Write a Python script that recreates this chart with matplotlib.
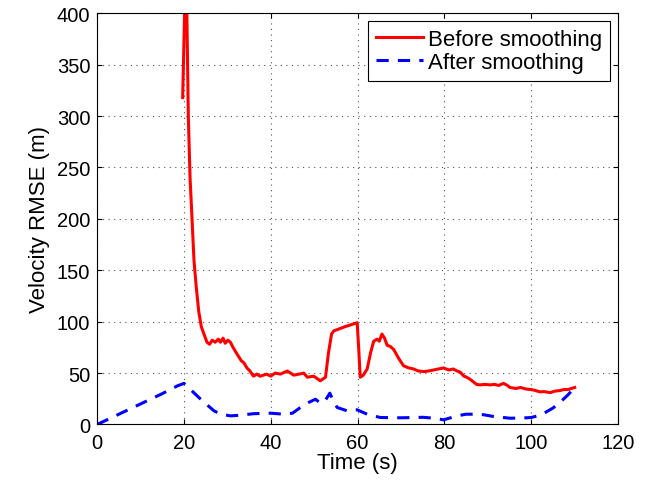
import numpy as np
import matplotlib.pyplot as plt

plt.rcParams['font.family'] = ['Liberation Sans', 'DejaVu Sans']

# Before smoothing (red)
t_before = [19.7, 20.2, 20.6, 21.0, 21.4, 21.8, 22.3, 22.8, 23.4, 24.0, 24.6, 25.3, 25.9,
            26.5, 27.2, 27.9, 28.4, 29.0, 29.5, 30.1, 30.7, 31.3, 32.0, 32.6, 33.2, 33.8,
            34.5, 35.2, 36.0, 36.8, 37.5, 38.3, 39.0, 40.0, 41.0, 42.2, 43.8, 45.3, 46.5,
            47.6, 48.4, 49.9, 51.4, 52.6, 53.3, 54.0, 54.5, 57.0, 59.9, 60.3, 60.6, 61.3,
            62.2, 63.0, 63.7, 64.5, 65.0, 65.6, 66.2, 66.8, 67.5, 68.3, 69.5, 70.6, 71.8,
            72.9, 74.0, 75.2, 76.3, 77.5, 78.6, 79.8, 81.0, 82.0, 82.9, 83.6, 84.5, 85.1,
            85.9, 87.4, 88.2, 89.3, 90.5, 91.5, 92.5, 93.6, 94.5, 95.1, 96.5, 97.5, 98.9,
            100.0, 101.0, 102.0, 103.0, 104.3, 105.5, 106.6, 107.5, 108.5, 109.2, 110.0]
v_before = [318, 410, 420, 300, 240, 205, 160, 135, 110, 95, 88, 80, 78,
            82, 80, 83, 80, 84, 79, 82, 80, 75, 70, 66, 62, 60,
            55, 52, 47, 49, 47, 48, 49, 47, 50, 49, 52, 48, 49,
            50, 46, 47, 42.5, 46, 70, 88, 91, 95, 99, 70, 46, 48,
            54, 70, 81, 83, 81, 88, 84, 77, 76, 73, 64, 57, 55,
            54, 52, 51.5, 52, 53, 54, 55, 53, 54, 52, 51, 47, 46,
            44, 39, 38.5, 39, 38.5, 39, 38, 40, 38, 36, 35, 36, 34.4,
            34, 33, 31.7, 32, 31, 32.5, 33, 34, 34, 35, 36]

# After smoothing (blue)
t_after = [0, 5, 10, 15, 18.5, 20, 21.5, 24, 26.9, 28.5, 30.7, 33, 36, 40, 43, 45, 46.8,
           48.5, 50.3, 51.4, 52.5, 53.6, 54.5, 55.3, 57.6, 59.9, 62.2, 65.2, 70, 75, 78,
           79.8, 81, 82.9, 85, 87.4, 89, 91.3, 95.1, 98, 100, 102, 103.5, 105, 106.6,
           108.5, 110]
v_after = [0, 10, 20, 30, 37.6, 40, 34, 24, 13.3, 10, 8.4, 9, 10.5, 11, 10, 11, 16.5,
           21, 24.6, 20.7, 23, 30.5, 22, 16.5, 13.3, 14.3, 10, 6.8, 6.5, 7, 6,
           4.5, 6, 8.4, 10, 10, 9.5, 7.8, 6.1, 6.3, 6.8, 9, 12.3, 16, 21.4,
           29, 36]

fig = plt.figure(figsize=(6.52, 4.81), dpi=100)
ax = fig.add_axes([0.149, 0.1154, 0.799, 0.855])

ax.plot(t_before, v_before, color='red', lw=2.2, label='Before smoothing')
ax.plot(t_after, v_after, color='blue', lw=2.2, ls=(0, (4, 3)), label='After smoothing')

ax.set_xlim(0, 120)
ax.set_ylim(0, 400)
ax.set_xticks(np.arange(0, 121, 20))
ax.set_yticks(np.arange(0, 401, 50))
ax.grid(True, ls=(0, (1, 4)), color='#555555', lw=0.8)
ax.tick_params(direction='in', top=True, right=True, labelsize=14.5)
ax.tick_params(axis='x', pad=6)
ax.tick_params(axis='y', pad=5)
ax.set_xlabel('Time (s)', fontsize=16, labelpad=0)
ax.set_ylabel('Velocity RMSE (m)', fontsize=16, labelpad=5)

leg = ax.legend(loc='upper right', fontsize=16, fancybox=False, framealpha=1,
                edgecolor='black', borderaxespad=0.35, handlelength=2.1,
                handletextpad=0.25, labelspacing=0.1, borderpad=0.35)
leg.get_frame().set_linewidth(0.8)

fig.savefig('out.png', dpi=100)
